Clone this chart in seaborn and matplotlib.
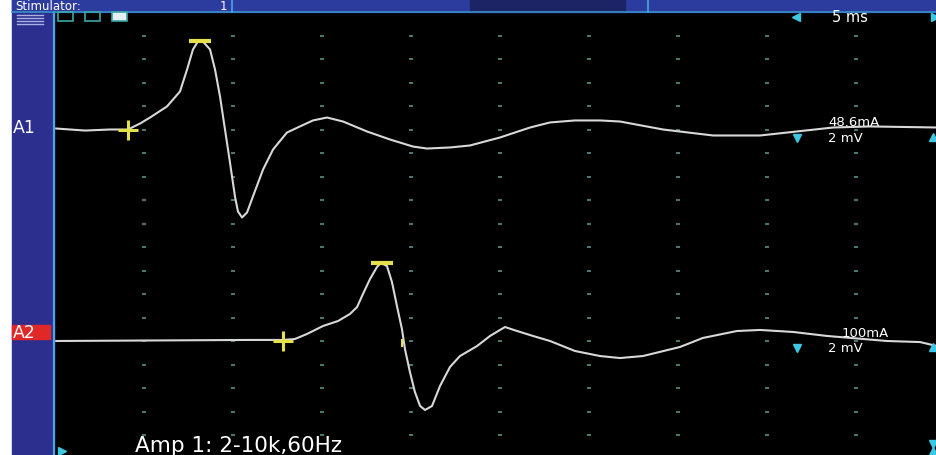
import matplotlib
import matplotlib.pyplot as plt
import seaborn as sns
import pandas as pd
from matplotlib.patches import Rectangle
from matplotlib.lines import Line2D

matplotlib.use('Agg')

# screen size in pixels
W, H = 937, 456

# A1 trace: time after stimulus (ms) and amplitude (mV)
a1_ms = [0.00, 1.69, 3.09, 4.10, 4.78, 5.34, 6.29, 7.02, 7.42, 7.75, 8.03, 8.31,
         8.71, 8.99, 9.27, 9.55, 9.83, 10.11, 10.28, 10.51, 10.79, 11.12, 11.69,
         12.25, 13.03, 13.76, 14.49, 15.28, 16.18, 17.53, 18.82, 20.11, 20.90,
         22.19, 23.31, 25.00, 26.69, 27.81, 29.21, 30.62, 31.74, 34.16, 36.97,
         39.61, 41.12, 43.71, 45.79, 49.55]
a1_mv = [0.09, -0.09, 0.00, 0.00, 0.51, 1.02, 1.96, 3.23, 5.11, 6.81, 7.49, 7.49,
         6.81, 5.11, 2.81, 0.00, -2.81, -5.70, -6.98, -7.49, -7.06, -5.70, -3.40,
         -1.70, -0.26, 0.26, 0.77, 1.02, 0.68, -0.17, -0.85, -1.45, -1.62,
         -1.53, -1.36, -0.68, 0.17, 0.60, 0.77, 0.77, 0.68, 0.00, -0.51,
         -0.51, -0.26, 0.17, 0.26, 0.17]

# A2 trace
a2_ms = [0.00, 10.96, 12.81, 13.48, 14.16, 15.06, 15.90, 16.57, 16.97, 17.30,
         17.70, 18.09, 18.31, 18.65, 18.93, 19.21, 19.49, 19.66, 19.94, 20.22,
         20.51, 20.79, 21.18, 21.63, 22.19, 22.75, 23.71, 24.44, 25.28, 25.96,
         26.85, 27.81, 29.21, 30.62, 31.74, 33.03, 35.11, 36.40, 38.31, 39.61,
         41.46, 43.37, 46.74, 48.60, 49.55]
a2_mv = [0.00, 0.09, 0.09, 0.17, 0.60, 1.28, 1.70, 2.30, 2.89, 4.00,
         5.28, 6.30, 6.64, 6.38, 5.02, 2.98, 1.02, -0.68, -2.64, -4.34,
         -5.53, -5.87, -5.53, -3.83, -2.21, -1.28, -0.43, 0.43, 1.19, 0.85,
         0.43, 0.00, -0.85, -1.28, -1.45, -1.28, -0.51, 0.26, 0.85, 0.94,
         0.77, 0.43, 0.00, -0.09, -0.43]

trace_names = ['A1', 'A2']
baseline_mv = [-10, -28]          # where each baseline sits below the top of the screen
stim_labels = ['48.6mA', '100mA']
gain_labels = ['2 mV', '2 mV']
onset_ms = [4.10, 12.81]
peak_ms = [8.17, 18.37]
peak_mv = [7.49, 6.64]
a2_cross_ms = [19.49]
sweep_label = '5 ms'
amp_label = 'Amp 1: 2-10k,60Hz'

ms_per_div = 5
mv_per_div = 2

# pixel layout of the screen
px_per_div_x = 89
px_per_div_y = 23.5
left_px, top_px = 55, 13


def fx(x):
    return x / W


def fy(y):
    return 1 - y / H


traces = pd.concat([
    pd.DataFrame({'ms': a1_ms, 'mv': a1_mv, 'trace': 'A1'}),
    pd.DataFrame({'ms': a2_ms, 'mv': a2_mv, 'trace': 'A2'}),
])
traces['screen'] = traces['mv'] + traces['trace'].map(dict(zip(trace_names, baseline_mv)))

fig = plt.figure(figsize=(W / 100, H / 100), dpi=100, facecolor='white')
ax = fig.add_axes([fx(left_px), 0, 1 - fx(left_px), (H - top_px) / H])
ax.set_facecolor('black')
x_max = (W - left_px) / px_per_div_x * ms_per_div
y_min = -(H - top_px) / px_per_div_y * mv_per_div
ax.set_xlim(0, x_max)
ax.set_ylim(y_min, 0)
ax.axis('off')
ax.add_patch(Rectangle((0, 0), 1, 1, transform=ax.transAxes, color='black', zorder=0))

# grid dots
gx = [k * ms_per_div for k in range(1, 10)]
gy = [-k * mv_per_div for k in range(1, 19)]
dots = pd.DataFrame([(x, y) for x in gx for y in gy], columns=['x', 'y'])
ax.scatter(dots['x'], dots['y'], marker='_', s=9, color='#5f9a98', linewidths=1.1, zorder=1)

# waveforms
for name in trace_names:
    sub = traces[traces['trace'] == name]
    sns.lineplot(data=sub, x='ms', y='screen', ax=ax, color='#d8d8d8', lw=1.5,
                 sort=False, estimator=None, legend=False, zorder=3)

# cursors
yellow = '#e6e04a'
for i, name in enumerate(trace_names):
    ax.plot(onset_ms[i], baseline_mv[i], marker='+', ms=14, mew=2.2, color=yellow, zorder=4)
    ax.plot(peak_ms[i], baseline_mv[i] + peak_mv[i], marker='_', ms=16, mew=3, color=yellow, zorder=4)
ax.plot(a2_cross_ms[0], baseline_mv[1] - 0.2, marker='|', ms=6, mew=1.5, color=yellow, zorder=4)

# side panel and top bar
blue = '#2c2f8e'
fig.patches.append(Rectangle((fx(12), 0), fx(42), 1, transform=fig.transFigure, color=blue, zorder=0))
fig.patches.append(Rectangle((fx(12), fy(13)), 1, 13 / H, transform=fig.transFigure, color='#2c3c9e', zorder=0))
fig.patches.append(Rectangle((fx(470), fy(13)), fx(155), 13 / H, transform=fig.transFigure, color='#1c2466', zorder=0))
fig.add_artist(Line2D([fx(54), fx(54)], [0, fy(13)], transform=fig.transFigure, color='#4aa6e6', lw=1.6))
fig.add_artist(Line2D([fx(12), 1], [fy(13), fy(13)], transform=fig.transFigure, color='#3a8fc8', lw=1.2))
for xd in (232, 648):
    fig.add_artist(Line2D([fx(xd), fx(xd)], [fy(13), 1], transform=fig.transFigure, color='#4aa6e6', lw=1.2))
fig.text(fx(15), fy(6.5), 'Stimulator:', color='white', fontsize=8.5, va='center', ha='left')
fig.text(fx(220), fy(6.5), '1', color='white', fontsize=8.5, va='center', ha='left')

# menu icon and window squares
for yl in (16, 19, 22, 25):
    fig.add_artist(Line2D([fx(17), fx(43)], [fy(yl), fy(yl)], transform=fig.transFigure, color='#a9b0e6', lw=1))
for x0, filled in ((58, False), (85, False), (112, True)):
    fig.patches.append(Rectangle((fx(x0), fy(22)), fx(15), 9 / H, transform=fig.transFigure,
                                 facecolor='#e6f0f0' if filled else 'none', edgecolor='#3aa6a6', lw=1.2, zorder=5))

# trace labels
fig.text(fx(13), fy(128), trace_names[0], color='white', fontsize=12.5, va='center', ha='left')
fig.patches.append(Rectangle((fx(12), fy(340)), fx(38), 14 / H, transform=fig.transFigure, color='#e02828', zorder=1))
fig.text(fx(13), fy(333), trace_names[1], color='white', fontsize=12.5, va='center', ha='left', zorder=6)

# stimulus / gain labels
cyan = '#3cc8e2'
for i, (sy, gy_) in enumerate(((123, 139), (334, 349))):
    fig.text(fx(828 if i == 0 else 842), fy(sy), stim_labels[i], color='white', fontsize=9.5,
             va='center', ha='left', zorder=6)
    fig.text(fx(828), fy(gy_), gain_labels[i], color='white', fontsize=9.5, va='center', ha='left', zorder=6)
    fig.add_artist(Line2D([fx(797)], [fy(gy_)], marker='v', ms=6, color=cyan, lw=0,
                          transform=fig.transFigure))
    fig.add_artist(Line2D([fx(933)], [fy(gy_ - 1)], marker='^', ms=6, color=cyan, lw=0,
                          transform=fig.transFigure))

# sweep label
fig.text(fx(832), fy(18), sweep_label, color='white', fontsize=10.5, va='center', ha='left')
fig.add_artist(Line2D([fx(796)], [fy(18)], marker='<', ms=6, color=cyan, lw=0, transform=fig.transFigure))
fig.add_artist(Line2D([fx(935)], [fy(18)], marker='>', ms=6, color=cyan, lw=0, transform=fig.transFigure))

# amplifier settings
fig.text(fx(135), fy(446), amp_label, color='white', fontsize=15.5, va='center', ha='left')
fig.add_artist(Line2D([fx(62)], [fy(452)], marker='>', ms=6, color=cyan, lw=0, transform=fig.transFigure))
fig.add_artist(Line2D([fx(933)], [fy(445)], marker='v', ms=6, color=cyan, lw=0, transform=fig.transFigure))
fig.add_artist(Line2D([fx(933)], [fy(452)], marker='^', ms=6, color=cyan, lw=0, transform=fig.transFigure))

fig.savefig('out.png', dpi=100, facecolor='white')
